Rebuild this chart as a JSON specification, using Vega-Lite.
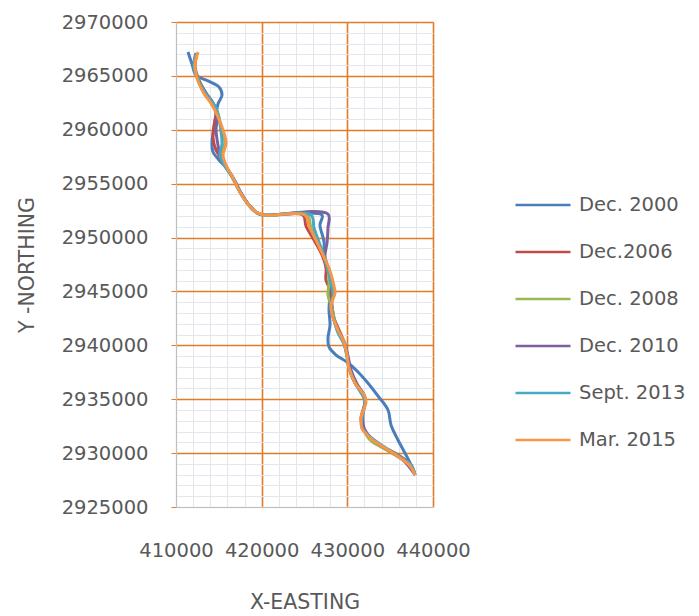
{
  "$schema": "https://vega.github.io/schema/vega-lite/v6.json",
  "width": 257,
  "height": 485,
  "autosize": "none",
  "padding": {"left": 176, "top": 22, "right": 266, "bottom": 109},
  "background": "white",
  "config": {"view": {"stroke": null}, "font": "DejaVu Sans"},
  "datasets": {
    "d": [
      {"s":"Dec. 2000","i":1,"x":411400,"y":2967220},{"s":"Dec. 2000","i":2,"x":411870,"y":2966100},{"s":"Dec. 2000","i":3,"x":412330,"y":2965080},{"s":"Dec. 2000","i":4,"x":413740,"y":2964530},{"s":"Dec. 2000","i":5,"x":415020,"y":2963970},{"s":"Dec. 2000","i":6,"x":415370,"y":2963230},{"s":"Dec. 2000","i":7,"x":414900,"y":2962390},{"s":"Dec. 2000","i":8,"x":414670,"y":2961370},{"s":"Dec. 2000","i":9,"x":414440,"y":2960170},{"s":"Dec. 2000","i":10,"x":414200,"y":2958870},{"s":"Dec. 2000","i":11,"x":414320,"y":2957940},{"s":"Dec. 2000","i":12,"x":415020,"y":2957200},{"s":"Dec. 2000","i":13,"x":416070,"y":2956270},{"s":"Dec. 2000","i":14,"x":416890,"y":2955250},{"s":"Dec. 2000","i":15,"x":417590,"y":2954130},{"s":"Dec. 2000","i":16,"x":418520,"y":2953020},{"s":"Dec. 2000","i":17,"x":419460,"y":2952280},{"s":"Dec. 2000","i":18,"x":420160,"y":2952090},{"s":"Dec. 2000","i":19,"x":427040,"y":2952090},{"s":"Dec. 2000","i":20,"x":426810,"y":2951170},{"s":"Dec. 2000","i":21,"x":427280,"y":2949590},{"s":"Dec. 2000","i":22,"x":427280,"y":2948380},{"s":"Dec. 2000","i":23,"x":427740,"y":2947180},{"s":"Dec. 2000","i":24,"x":428090,"y":2946060},{"s":"Dec. 2000","i":25,"x":427980,"y":2944670},{"s":"Dec. 2000","i":26,"x":427860,"y":2943280},{"s":"Dec. 2000","i":27,"x":427980,"y":2941890},{"s":"Dec. 2000","i":28,"x":427740,"y":2940680},{"s":"Dec. 2000","i":29,"x":427860,"y":2939850},{"s":"Dec. 2000","i":30,"x":428680,"y":2939100},{"s":"Dec. 2000","i":31,"x":429960,"y":2938450},{"s":"Dec. 2000","i":32,"x":431250,"y":2937530},{"s":"Dec. 2000","i":33,"x":432300,"y":2936600},{"s":"Dec. 2000","i":34,"x":433580,"y":2935300},{"s":"Dec. 2000","i":35,"x":434750,"y":2934000},{"s":"Dec. 2000","i":36,"x":435100,"y":2932610},{"s":"Dec. 2000","i":37,"x":435910,"y":2931220},{"s":"Dec. 2000","i":38,"x":436850,"y":2929830},{"s":"Dec. 2000","i":39,"x":437550,"y":2928710},{"s":"Dec. 2000","i":40,"x":437900,"y":2927970},

      {"s":"Dec.2006","i":1,"x":412330,"y":2967120},{"s":"Dec.2006","i":2,"x":412100,"y":2966010},{"s":"Dec.2006","i":3,"x":412570,"y":2964800},{"s":"Dec.2006","i":4,"x":413390,"y":2963510},{"s":"Dec.2006","i":5,"x":414320,"y":2962490},{"s":"Dec.2006","i":6,"x":414670,"y":2961560},{"s":"Dec.2006","i":7,"x":414440,"y":2960440},{"s":"Dec.2006","i":8,"x":414320,"y":2959240},{"s":"Dec.2006","i":9,"x":414670,"y":2958120},{"s":"Dec.2006","i":10,"x":415370,"y":2957200},{"s":"Dec.2006","i":11,"x":416300,"y":2955990},{"s":"Dec.2006","i":12,"x":417470,"y":2954230},{"s":"Dec.2006","i":13,"x":418400,"y":2953110},{"s":"Dec.2006","i":14,"x":419340,"y":2952370},{"s":"Dec.2006","i":15,"x":420160,"y":2952090},{"s":"Dec.2006","i":16,"x":424820,"y":2952090},{"s":"Dec.2006","i":17,"x":425170,"y":2951070},{"s":"Dec.2006","i":18,"x":426110,"y":2949770},{"s":"Dec.2006","i":19,"x":427040,"y":2948380},{"s":"Dec.2006","i":20,"x":427510,"y":2947180},{"s":"Dec.2006","i":21,"x":427510,"y":2946060},{"s":"Dec.2006","i":22,"x":428090,"y":2944950},{"s":"Dec.2006","i":23,"x":428210,"y":2943740},{"s":"Dec.2006","i":24,"x":428440,"y":2942540},{"s":"Dec.2006","i":25,"x":429030,"y":2941420},{"s":"Dec.2006","i":26,"x":429610,"y":2940310},{"s":"Dec.2006","i":27,"x":429960,"y":2939100},{"s":"Dec.2006","i":28,"x":430190,"y":2937900},{"s":"Dec.2006","i":29,"x":430890,"y":2936510},{"s":"Dec.2006","i":30,"x":431830,"y":2935390},{"s":"Dec.2006","i":31,"x":432060,"y":2934740},{"s":"Dec.2006","i":32,"x":431600,"y":2933260},{"s":"Dec.2006","i":33,"x":431830,"y":2932330},{"s":"Dec.2006","i":34,"x":432410,"y":2931680},{"s":"Dec.2006","i":35,"x":433810,"y":2930750},{"s":"Dec.2006","i":36,"x":435910,"y":2929830},{"s":"Dec.2006","i":37,"x":437430,"y":2928900},{"s":"Dec.2006","i":38,"x":437900,"y":2927970},

      {"s":"Dec. 2008","i":1,"x":412450,"y":2967120},{"s":"Dec. 2008","i":2,"x":412220,"y":2965920},{"s":"Dec. 2008","i":3,"x":412680,"y":2964620},{"s":"Dec. 2008","i":4,"x":413500,"y":2963410},{"s":"Dec. 2008","i":5,"x":414440,"y":2962300},{"s":"Dec. 2008","i":6,"x":415020,"y":2961190},{"s":"Dec. 2008","i":7,"x":415250,"y":2959980},{"s":"Dec. 2008","i":8,"x":415720,"y":2958870},{"s":"Dec. 2008","i":9,"x":415250,"y":2957660},{"s":"Dec. 2008","i":10,"x":415720,"y":2956640},{"s":"Dec. 2008","i":11,"x":416650,"y":2955530},{"s":"Dec. 2008","i":12,"x":417470,"y":2954230},{"s":"Dec. 2008","i":13,"x":418400,"y":2953110},{"s":"Dec. 2008","i":14,"x":419340,"y":2952370},{"s":"Dec. 2008","i":15,"x":420160,"y":2952090},{"s":"Dec. 2008","i":16,"x":425290,"y":2952090},{"s":"Dec. 2008","i":17,"x":425760,"y":2950890},{"s":"Dec. 2008","i":18,"x":426580,"y":2949590},{"s":"Dec. 2008","i":19,"x":427280,"y":2948200},{"s":"Dec. 2008","i":20,"x":427740,"y":2946990},{"s":"Dec. 2008","i":21,"x":427860,"y":2945790},{"s":"Dec. 2008","i":22,"x":427740,"y":2944670},{"s":"Dec. 2008","i":23,"x":428210,"y":2943470},{"s":"Dec. 2008","i":24,"x":428560,"y":2942170},{"s":"Dec. 2008","i":25,"x":429030,"y":2941150},{"s":"Dec. 2008","i":26,"x":429610,"y":2940130},{"s":"Dec. 2008","i":27,"x":429960,"y":2939010},{"s":"Dec. 2008","i":28,"x":430190,"y":2937900},{"s":"Dec. 2008","i":29,"x":430890,"y":2936510},{"s":"Dec. 2008","i":30,"x":431830,"y":2935300},{"s":"Dec. 2008","i":31,"x":432060,"y":2934740},{"s":"Dec. 2008","i":32,"x":431600,"y":2933070},{"s":"Dec. 2008","i":33,"x":431830,"y":2932330},{"s":"Dec. 2008","i":34,"x":432650,"y":2931220},{"s":"Dec. 2008","i":35,"x":434160,"y":2930480},{"s":"Dec. 2008","i":36,"x":436150,"y":2929550},{"s":"Dec. 2008","i":37,"x":437320,"y":2928810},{"s":"Dec. 2008","i":38,"x":437900,"y":2927970},

      {"s":"Dec. 2010","i":1,"x":412450,"y":2967120},{"s":"Dec. 2010","i":2,"x":412220,"y":2965920},{"s":"Dec. 2010","i":3,"x":412570,"y":2964710},{"s":"Dec. 2010","i":4,"x":413500,"y":2963410},{"s":"Dec. 2010","i":5,"x":414440,"y":2962210},{"s":"Dec. 2010","i":6,"x":414790,"y":2961090},{"s":"Dec. 2010","i":7,"x":414670,"y":2959980},{"s":"Dec. 2010","i":8,"x":414900,"y":2958590},{"s":"Dec. 2010","i":9,"x":415140,"y":2957660},{"s":"Dec. 2010","i":10,"x":415840,"y":2956550},{"s":"Dec. 2010","i":11,"x":416650,"y":2955530},{"s":"Dec. 2010","i":12,"x":417590,"y":2954130},{"s":"Dec. 2010","i":13,"x":418520,"y":2953020},{"s":"Dec. 2010","i":14,"x":419460,"y":2952280},{"s":"Dec. 2010","i":15,"x":420160,"y":2952090},{"s":"Dec. 2010","i":16,"x":427740,"y":2952190},{"s":"Dec. 2010","i":17,"x":427740,"y":2950890},{"s":"Dec. 2010","i":18,"x":427630,"y":2949500},{"s":"Dec. 2010","i":19,"x":427390,"y":2948290},{"s":"Dec. 2010","i":20,"x":427740,"y":2947180},{"s":"Dec. 2010","i":21,"x":428090,"y":2946060},{"s":"Dec. 2010","i":22,"x":428330,"y":2944860},{"s":"Dec. 2010","i":23,"x":428090,"y":2943650},{"s":"Dec. 2010","i":24,"x":428440,"y":2942350},{"s":"Dec. 2010","i":25,"x":429030,"y":2941150},{"s":"Dec. 2010","i":26,"x":429730,"y":2940130},{"s":"Dec. 2010","i":27,"x":430080,"y":2939010},{"s":"Dec. 2010","i":28,"x":430430,"y":2937710},{"s":"Dec. 2010","i":29,"x":431130,"y":2936410},{"s":"Dec. 2010","i":30,"x":432060,"y":2935210},{"s":"Dec. 2010","i":31,"x":431830,"y":2933540},{"s":"Dec. 2010","i":32,"x":431950,"y":2932330},{"s":"Dec. 2010","i":33,"x":433000,"y":2931220},{"s":"Dec. 2010","i":34,"x":434750,"y":2930290},{"s":"Dec. 2010","i":35,"x":436500,"y":2929360},{"s":"Dec. 2010","i":36,"x":437900,"y":2927970},

      {"s":"Sept. 2013","i":1,"x":412330,"y":2967030},{"s":"Sept. 2013","i":2,"x":412100,"y":2965820},{"s":"Sept. 2013","i":3,"x":412570,"y":2964620},{"s":"Sept. 2013","i":4,"x":413500,"y":2963320},{"s":"Sept. 2013","i":5,"x":414550,"y":2962210},{"s":"Sept. 2013","i":6,"x":415020,"y":2961090},{"s":"Sept. 2013","i":7,"x":415250,"y":2959890},{"s":"Sept. 2013","i":8,"x":415370,"y":2958680},{"s":"Sept. 2013","i":9,"x":415140,"y":2957660},{"s":"Sept. 2013","i":10,"x":415720,"y":2956640},{"s":"Sept. 2013","i":11,"x":416650,"y":2955530},{"s":"Sept. 2013","i":12,"x":417470,"y":2954230},{"s":"Sept. 2013","i":13,"x":418400,"y":2953110},{"s":"Sept. 2013","i":14,"x":419340,"y":2952370},{"s":"Sept. 2013","i":15,"x":420160,"y":2952090},{"s":"Sept. 2013","i":16,"x":425760,"y":2952090},{"s":"Sept. 2013","i":17,"x":426110,"y":2950890},{"s":"Sept. 2013","i":18,"x":426690,"y":2949590},{"s":"Sept. 2013","i":19,"x":427280,"y":2948290},{"s":"Sept. 2013","i":20,"x":427740,"y":2946990},{"s":"Sept. 2013","i":21,"x":428090,"y":2945790},{"s":"Sept. 2013","i":22,"x":428330,"y":2944670},{"s":"Sept. 2013","i":23,"x":428090,"y":2943650},{"s":"Sept. 2013","i":24,"x":428440,"y":2942350},{"s":"Sept. 2013","i":25,"x":428910,"y":2941150},{"s":"Sept. 2013","i":26,"x":429610,"y":2940130},{"s":"Sept. 2013","i":27,"x":429960,"y":2939010},{"s":"Sept. 2013","i":28,"x":430190,"y":2937900},{"s":"Sept. 2013","i":29,"x":430890,"y":2936510},{"s":"Sept. 2013","i":30,"x":431830,"y":2935300},{"s":"Sept. 2013","i":31,"x":432060,"y":2934740},{"s":"Sept. 2013","i":32,"x":431710,"y":2933260},{"s":"Sept. 2013","i":33,"x":431710,"y":2932330},{"s":"Sept. 2013","i":34,"x":432410,"y":2931680},{"s":"Sept. 2013","i":35,"x":434160,"y":2930660},{"s":"Sept. 2013","i":36,"x":436150,"y":2929640},{"s":"Sept. 2013","i":37,"x":437430,"y":2928900},{"s":"Sept. 2013","i":38,"x":437900,"y":2927970},

      {"s":"Mar. 2015","i":1,"x":412570,"y":2967220},{"s":"Mar. 2015","i":2,"x":412220,"y":2966010},{"s":"Mar. 2015","i":3,"x":412450,"y":2964800},{"s":"Mar. 2015","i":4,"x":413150,"y":2963510},{"s":"Mar. 2015","i":5,"x":414200,"y":2962300},{"s":"Mar. 2015","i":6,"x":414900,"y":2961190},{"s":"Mar. 2015","i":7,"x":415490,"y":2959980},{"s":"Mar. 2015","i":8,"x":415840,"y":2958770},{"s":"Mar. 2015","i":9,"x":415490,"y":2957660},{"s":"Mar. 2015","i":10,"x":415840,"y":2956730},{"s":"Mar. 2015","i":11,"x":416650,"y":2955530},{"s":"Mar. 2015","i":12,"x":417470,"y":2954230},{"s":"Mar. 2015","i":13,"x":418400,"y":2953110},{"s":"Mar. 2015","i":14,"x":419340,"y":2952370},{"s":"Mar. 2015","i":15,"x":420160,"y":2952090},{"s":"Mar. 2015","i":16,"x":425060,"y":2952090},{"s":"Mar. 2015","i":17,"x":425530,"y":2951070},{"s":"Mar. 2015","i":18,"x":426340,"y":2949770},{"s":"Mar. 2015","i":19,"x":427160,"y":2948380},{"s":"Mar. 2015","i":20,"x":427860,"y":2947180},{"s":"Mar. 2015","i":21,"x":428330,"y":2945880},{"s":"Mar. 2015","i":22,"x":428560,"y":2944860},{"s":"Mar. 2015","i":23,"x":428090,"y":2943740},{"s":"Mar. 2015","i":24,"x":428330,"y":2942540},{"s":"Mar. 2015","i":25,"x":428910,"y":2941420},{"s":"Mar. 2015","i":26,"x":429610,"y":2940310},{"s":"Mar. 2015","i":27,"x":429960,"y":2939100},{"s":"Mar. 2015","i":28,"x":430190,"y":2937900},{"s":"Mar. 2015","i":29,"x":430890,"y":2936510},{"s":"Mar. 2015","i":30,"x":431950,"y":2935390},{"s":"Mar. 2015","i":31,"x":432180,"y":2934740},{"s":"Mar. 2015","i":32,"x":431600,"y":2933260},{"s":"Mar. 2015","i":33,"x":431710,"y":2932330},{"s":"Mar. 2015","i":34,"x":432650,"y":2931400},{"s":"Mar. 2015","i":35,"x":434400,"y":2930480},{"s":"Mar. 2015","i":36,"x":436150,"y":2929550},{"s":"Mar. 2015","i":37,"x":437320,"y":2928810},{"s":"Mar. 2015","i":38,"x":437900,"y":2927970}
    ]
  },
  "data": {"name": "d"},
  "mark": {"type": "line", "interpolate": "catmull-rom", "strokeWidth": 3},
  "encoding": {
    "x": {
      "field": "x", "type": "quantitative",
      "scale": {"domain": [410000, 440000], "nice": false, "zero": false},
      "axis": {
        "values": [410000,412000,414000,416000,418000,420000,422000,424000,426000,428000,430000,432000,434000,436000,438000,440000],
        "format": "d",
        "labelExpr": "datum.value % 10000 === 0 ? datum.label : ''",
        "labelOverlap": false, "labelFlush": false,
        "labelFontSize": 19.5, "labelColor": "#595959", "labelPadding": 34,
        "ticks": false,
        "domainColor": "#BFBFBF", "domainWidth": 1,
        "grid": true,
        "gridColor": {"condition": {"test": "datum.value % 10000 === 0 && datum.value !== 410000", "value": "#E07B28"}, "value": "#E4E6EE"},
        "gridWidth": {"condition": {"test": "datum.value % 10000 === 0", "value": 1.6}, "value": 1},
        "title": "X-EASTING", "titleFontSize": 20.5, "titleFontWeight": "normal", "titleColor": "#595959",
        "titleX": 128.5, "titleY": 95, "titleAlign": "center", "titleBaseline": "middle"
      }
    },
    "y": {
      "field": "y", "type": "quantitative",
      "scale": {"domain": [2925000, 2970000], "nice": false, "zero": false},
      "axis": {
        "values": [2925000,2926000,2927000,2928000,2929000,2930000,2931000,2932000,2933000,2934000,2935000,2936000,2937000,2938000,2939000,2940000,2941000,2942000,2943000,2944000,2945000,2946000,2947000,2948000,2949000,2950000,2951000,2952000,2953000,2954000,2955000,2956000,2957000,2958000,2959000,2960000,2961000,2962000,2963000,2964000,2965000,2966000,2967000,2968000,2969000,2970000],
        "format": "d",
        "labelExpr": "datum.value % 5000 === 0 ? datum.label : ''",
        "labelOverlap": false, "labelFlush": false,
        "labelFontSize": 19.5, "labelColor": "#595959", "labelPadding": 23, "labelBaseline": "middle",
        "ticks": true, "tickSize": 5,
        "tickColor": {"condition": {"test": "datum.value % 5000 === 0", "value": "#E07B28"}, "value": "transparent"},
        "domainColor": "#BFBFBF", "domainWidth": 1,
        "grid": true,
        "gridColor": {"condition": {"test": "datum.value % 5000 === 0 && datum.value !== 2925000", "value": "#E07B28"}, "value": "#E4E6EE"},
        "gridWidth": {"condition": {"test": "datum.value % 5000 === 0", "value": 1.6}, "value": 1},
        "title": "Y -NORTHING", "titleFontSize": 20.5, "titleFontWeight": "normal", "titleColor": "#595959",
        "titleX": -149, "titleY": 242.5, "titleAngle": -90, "titleAlign": "center", "titleBaseline": "middle"
      }
    },
    "color": {
      "field": "s", "type": "nominal",
      "scale": {
        "domain": ["Dec. 2000", "Dec.2006", "Dec. 2008", "Dec. 2010", "Sept. 2013", "Mar. 2015"],
        "range": ["#4A7EBB", "#BE4B48", "#98B954", "#7D60A0", "#46AAC5", "#F79646"]
      },
      "legend": {
        "title": null, "orient": "none", "legendX": 338, "legendY": 154,
        "symbolType": "stroke", "symbolSize": 3025, "symbolStrokeWidth": 2.5,
        "labelFontSize": 19.5, "labelColor": "#595959", "labelOffset": 7,
        "rowPadding": 8
      }
    },
    "order": {"field": "i", "type": "quantitative"}
  }
}
